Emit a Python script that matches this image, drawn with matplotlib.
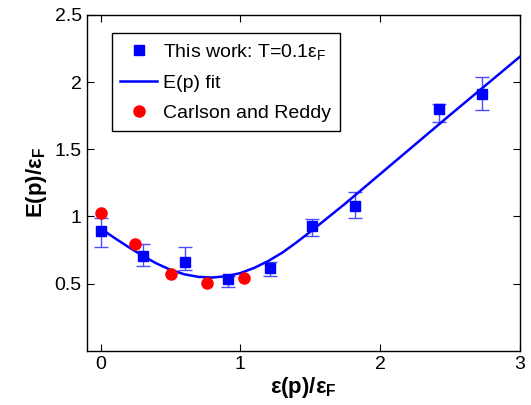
import matplotlib
matplotlib.use('Agg')
import matplotlib.pyplot as plt

plt.rcParams['font.family'] = ['Liberation Sans', 'DejaVu Sans']
plt.rcParams['mathtext.fontset'] = 'custom'
plt.rcParams['mathtext.rm'] = 'Liberation Sans'
plt.rcParams['mathtext.it'] = 'Liberation Sans'
plt.rcParams['mathtext.bf'] = 'Liberation Sans:bold'

# this work, T = 0.1 eps_F (squares with error bars)
work_x = [0.0, 0.303, 0.602, 0.910, 1.211, 1.515, 1.820, 2.425, 2.731]
work_y = [0.893, 0.702, 0.659, 0.532, 0.614, 0.930, 1.077, 1.803, 1.913]
work_lo = [0.776, 0.634, 0.602, 0.478, 0.557, 0.858, 0.990, 1.706, 1.796]
work_hi = [0.988, 0.794, 0.776, 0.560, 0.662, 0.980, 1.179, 1.836, 2.037]

# E(p) fit curve
fit_x = [0.0, 0.1, 0.2, 0.3, 0.4, 0.5, 0.6, 0.7, 0.8, 0.9, 1.0,
         1.1, 1.2, 1.3, 1.4, 1.5, 1.75, 2.0, 2.25, 2.5, 2.75, 3.0]
fit_y = [0.91, 0.84, 0.772, 0.708, 0.65, 0.603, 0.569, 0.550, 0.545, 0.555, 0.578,
         0.617, 0.668, 0.73, 0.805, 0.885, 1.095, 1.315, 1.535, 1.755, 1.972, 2.189]

# Carlson and Reddy
cr_x = [0.0, 0.248, 0.502, 0.760, 1.027]
cr_y = [1.025, 0.798, 0.575, 0.505, 0.542]

fig = plt.figure(figsize=(5.31, 4.05), dpi=100)
ax = fig.add_axes([0.163, 0.134, 0.816, 0.829])

yerr = [[y - lo for y, lo in zip(work_y, work_lo)],
        [hi - y for y, hi in zip(work_y, work_hi)]]
ax.errorbar(work_x, work_y, yerr=yerr, fmt='none', ecolor='#4d4dff',
            elinewidth=1.0, capsize=5, capthick=1.0, zorder=2)
ax.plot(work_x, work_y, 's', color='#0000ff', markersize=6.5, zorder=3,
        label=r'This work: T=0.1ε$_\mathrm{F}$')
ax.plot(fit_x, fit_y, '-', color='#0000ff', linewidth=1.8, zorder=2.5,
        label='E(p) fit')
ax.plot(cr_x, cr_y, 'o', color='#ff0000', markersize=8, zorder=4,
        label='Carlson and Reddy')

ax.set_xlim(-0.1, 3)
ax.set_ylim(0, 2.5)
ax.set_xticks([0, 1, 2, 3])
ax.set_yticks([0.5, 1, 1.5, 2, 2.5])
ax.set_yticklabels(['0.5', '1', '1.5', '2', '2.5'])
ax.tick_params(direction='in', top=True, right=True, length=5, labelsize=14)
for s in ax.spines.values():
    s.set_linewidth(1.0)

ax.set_xlabel(r'ε(p)/ε$_\mathbf{F}$', fontsize=16, fontweight='bold', labelpad=2)
ax.set_ylabel(r'E(p)/ε$_\mathbf{F}$', fontsize=16, fontweight='bold', labelpad=4)

leg = ax.legend(loc='upper left', bbox_to_anchor=(0.058, 0.947), borderaxespad=0,
                fontsize=14, fancybox=False, framealpha=1, edgecolor='black',
                handlelength=1.9, handletextpad=0.3, labelspacing=0.65,
                borderpad=0.45)
leg.get_frame().set_linewidth(1.0)

fig.savefig('out.png', dpi=100)
